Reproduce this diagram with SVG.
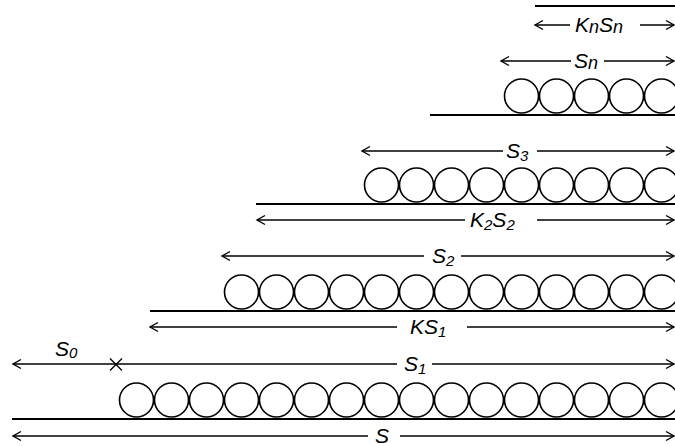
<svg xmlns="http://www.w3.org/2000/svg" width="675" height="446" viewBox="0 0 675 446">
  <style>
    .ball { fill: none; stroke: #000; stroke-width: 1.6; }
    .base { stroke: #000; stroke-width: 2.2; fill: none; }
    .dim { stroke: #000; stroke-width: 1.3; fill: none; }
    .lbl { font-family: "Liberation Sans", "DejaVu Sans", sans-serif; font-style: italic; font-size: 21px; fill: #000; }
    .sub { font-size: 15px; }
    .low { font-size: 18px; }
  </style>
  <defs>
    <marker id="head" viewBox="-10 -6 12 12" refX="0" refY="0" markerWidth="12" markerHeight="12" markerUnits="userSpaceOnUse" orient="auto-start-reverse" overflow="visible">
      <path d="M-8,-4.5 L0,0 L-8,4.5" fill="none" stroke="#000" stroke-width="1.4"/>
    </marker>
  </defs>
  <rect width="675" height="446" fill="#fff"/>

  <!-- tier n (top) -->
  <g id="tier-n">
    <line class="base" x1="430" y1="115" x2="675" y2="115"/>
    <circle class="ball" cx="521.5" cy="96" r="17"/>
    <circle class="ball" cx="556.5" cy="96" r="17"/>
    <circle class="ball" cx="591.5" cy="96" r="17"/>
    <circle class="ball" cx="626.5" cy="96" r="17"/>
    <circle class="ball" cx="661.5" cy="96" r="17"/>
  </g>

  <!-- tier 3 -->
  <g id="tier-3">
    <line class="base" x1="256" y1="204" x2="675" y2="204"/>
    <circle class="ball" cx="381.5" cy="185" r="17"/>
    <circle class="ball" cx="416.5" cy="185" r="17"/>
    <circle class="ball" cx="451.5" cy="185" r="17"/>
    <circle class="ball" cx="486.5" cy="185" r="17"/>
    <circle class="ball" cx="521.5" cy="185" r="17"/>
    <circle class="ball" cx="556.5" cy="185" r="17"/>
    <circle class="ball" cx="591.5" cy="185" r="17"/>
    <circle class="ball" cx="626.5" cy="185" r="17"/>
    <circle class="ball" cx="661.5" cy="185" r="17"/>
  </g>

  <!-- tier 2 -->
  <g id="tier-2">
    <line class="base" x1="150" y1="311" x2="675" y2="311"/>
    <circle class="ball" cx="241.5" cy="292" r="17"/>
    <circle class="ball" cx="276.5" cy="292" r="17"/>
    <circle class="ball" cx="311.5" cy="292" r="17"/>
    <circle class="ball" cx="346.5" cy="292" r="17"/>
    <circle class="ball" cx="381.5" cy="292" r="17"/>
    <circle class="ball" cx="416.5" cy="292" r="17"/>
    <circle class="ball" cx="451.5" cy="292" r="17"/>
    <circle class="ball" cx="486.5" cy="292" r="17"/>
    <circle class="ball" cx="521.5" cy="292" r="17"/>
    <circle class="ball" cx="556.5" cy="292" r="17"/>
    <circle class="ball" cx="591.5" cy="292" r="17"/>
    <circle class="ball" cx="626.5" cy="292" r="17"/>
    <circle class="ball" cx="661.5" cy="292" r="17"/>
  </g>

  <!-- tier 1 (bottom) -->
  <g id="tier-1">
    <line class="base" x1="12" y1="419" x2="675" y2="419"/>
    <circle class="ball" cx="136.5" cy="400" r="17"/>
    <circle class="ball" cx="171.5" cy="400" r="17"/>
    <circle class="ball" cx="206.5" cy="400" r="17"/>
    <circle class="ball" cx="241.5" cy="400" r="17"/>
    <circle class="ball" cx="276.5" cy="400" r="17"/>
    <circle class="ball" cx="311.5" cy="400" r="17"/>
    <circle class="ball" cx="346.5" cy="400" r="17"/>
    <circle class="ball" cx="381.5" cy="400" r="17"/>
    <circle class="ball" cx="416.5" cy="400" r="17"/>
    <circle class="ball" cx="451.5" cy="400" r="17"/>
    <circle class="ball" cx="486.5" cy="400" r="17"/>
    <circle class="ball" cx="521.5" cy="400" r="17"/>
    <circle class="ball" cx="556.5" cy="400" r="17"/>
    <circle class="ball" cx="591.5" cy="400" r="17"/>
    <circle class="ball" cx="626.5" cy="400" r="17"/>
    <circle class="ball" cx="661.5" cy="400" r="17"/>
  </g>

  <!-- dimension lines -->
  <g id="dimensions">
    <line class="base" x1="535" y1="6" x2="675" y2="6"/>

    <line class="dim" x1="570" y1="25" x2="535" y2="25" marker-end="url(#head)"/>
    <line class="dim" x1="640" y1="25" x2="674" y2="25" marker-end="url(#head)"/>

    <line class="dim" x1="571" y1="61" x2="501" y2="61" marker-end="url(#head)"/>
    <line class="dim" x1="604" y1="61" x2="674" y2="61" marker-end="url(#head)"/>

    <line class="dim" x1="503" y1="151" x2="362" y2="151" marker-end="url(#head)"/>
    <line class="dim" x1="537" y1="151" x2="674" y2="151" marker-end="url(#head)"/>

    <line class="dim" x1="465" y1="220" x2="257" y2="220" marker-end="url(#head)"/>
    <line class="dim" x1="537" y1="220" x2="674" y2="220" marker-end="url(#head)"/>

    <line class="dim" x1="424" y1="256" x2="222" y2="256" marker-end="url(#head)"/>
    <line class="dim" x1="461" y1="256" x2="674" y2="256" marker-end="url(#head)"/>

    <line class="dim" x1="397" y1="327" x2="150" y2="327" marker-end="url(#head)"/>
    <line class="dim" x1="467" y1="327" x2="674" y2="327" marker-end="url(#head)"/>

    <line class="dim" x1="116" y1="364" x2="13" y2="364" marker-end="url(#head)"/>
    <line class="dim" x1="116" y1="364" x2="397" y2="364"/>
    <line class="dim" x1="432" y1="364" x2="674" y2="364" marker-end="url(#head)"/>
    <path class="dim" d="M110,358.5 L122,370.5 M122,358.5 L110,370.5" stroke-width="1.7"/>

    <line class="dim" x1="368" y1="436" x2="13" y2="436" marker-end="url(#head)"/>
    <line class="dim" x1="400" y1="436" x2="674" y2="436" marker-end="url(#head)"/>
  </g>

  <!-- labels -->
  <g id="labels">
    <text class="lbl" x="575" y="32">K<tspan class="low" dy="1">n</tspan><tspan dy="-1">S</tspan><tspan class="low" dy="1">n</tspan></text>
    <text class="lbl" x="574" y="68">S<tspan class="low" dy="1">n</tspan></text>
    <text class="lbl" x="506" y="158">S<tspan class="sub" dy="3">3</tspan></text>
    <text class="lbl" x="470" y="227">K<tspan class="sub" dy="3">2</tspan><tspan dy="-3">S</tspan><tspan class="sub" dy="3">2</tspan></text>
    <text class="lbl" x="432" y="263">S<tspan class="sub" dy="3">2</tspan></text>
    <text class="lbl" x="410" y="334">K<tspan dy="0">S</tspan><tspan class="sub" dy="3">1</tspan></text>
    <text class="lbl" x="404" y="371">S<tspan class="sub" dy="3">1</tspan></text>
    <text class="lbl" x="55" y="356">S<tspan class="sub" dy="2">0</tspan></text>
    <text class="lbl" x="375" y="443">S</text>
  </g>
</svg>
